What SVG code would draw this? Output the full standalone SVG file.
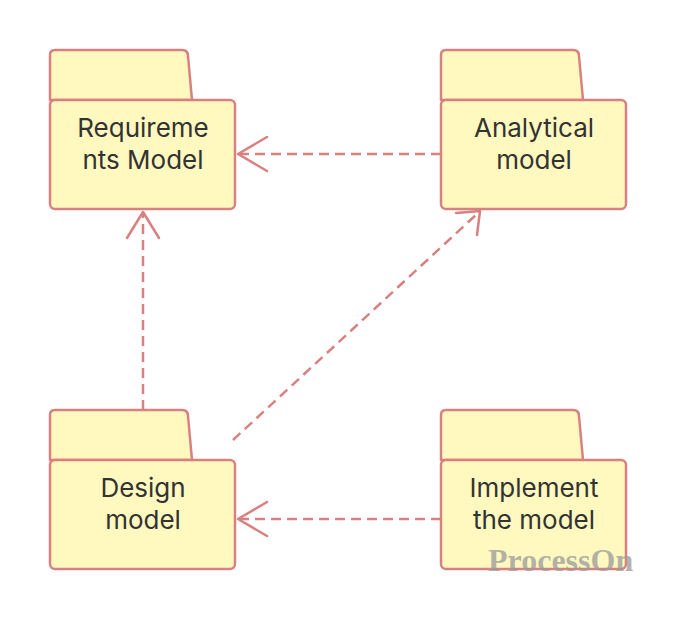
<svg xmlns="http://www.w3.org/2000/svg" width="676" height="620" viewBox="0 0 676 620">
<style>
.pkg{fill:#FFF9C0;stroke:#D98180;stroke-width:2.5;stroke-linejoin:round}
.lbl{font-family:Inter,"Open Sans",sans-serif;font-size:26px;fill:#333333;text-anchor:middle}
.dep{fill:none;stroke:#D98180;stroke-width:2.5;stroke-dasharray:10,6}
.head{fill:none;stroke:#D98180;stroke-width:2.5;stroke-linecap:round;stroke-linejoin:round}
.wm{font-family:"Liberation Serif",serif;font-weight:bold;font-size:32px;fill:#9a9a9a;fill-opacity:0.75}
</style>
<defs>
<g id="pkgshape">
<path class="pkg" d="M0,50 L0,5 Q0,0 5,0 L132,0 Q138,0 138,6 L142,50 Z"/>
<rect class="pkg" x="0" y="50" width="185" height="109" rx="5"/>
</g>
</defs>
<rect width="676" height="620" fill="#ffffff"/>
<g id="connectors">
<line class="dep" x1="441" y1="154" x2="239" y2="154"/>
<polyline class="head" points="267,137 238,154 267,171"/>
<line class="dep" x1="143" y1="410" x2="143" y2="212"/>
<polyline class="head" points="127,238 143,212 159,238"/>
<line class="dep" x1="233" y1="440" x2="478" y2="213"/>
<polyline class="head" points="456,213 480,211 477,235"/>
<line class="dep" x1="441" y1="519" x2="239" y2="519"/>
<polyline class="head" points="267,502 238,519 267,536"/>
</g>
<g id="requirements">
<use href="#pkgshape" x="50" y="50"/>
<text class="lbl" x="143" y="137">Requireme</text>
<text class="lbl" x="143" y="169">nts Model</text>
</g>
<g id="analytical">
<use href="#pkgshape" x="441" y="50"/>
<text class="lbl" x="534" y="137">Analytical</text>
<text class="lbl" x="534" y="169">model</text>
</g>
<g id="design">
<use href="#pkgshape" x="50" y="410"/>
<text class="lbl" x="143" y="497">Design</text>
<text class="lbl" x="143" y="529">model</text>
</g>
<g id="implement">
<use href="#pkgshape" x="441" y="410"/>
<text class="lbl" x="534" y="497">Implement</text>
<text class="lbl" x="534" y="529">the model</text>
</g>
<text class="wm" x="488" y="571">ProcessOn</text>
</svg>
